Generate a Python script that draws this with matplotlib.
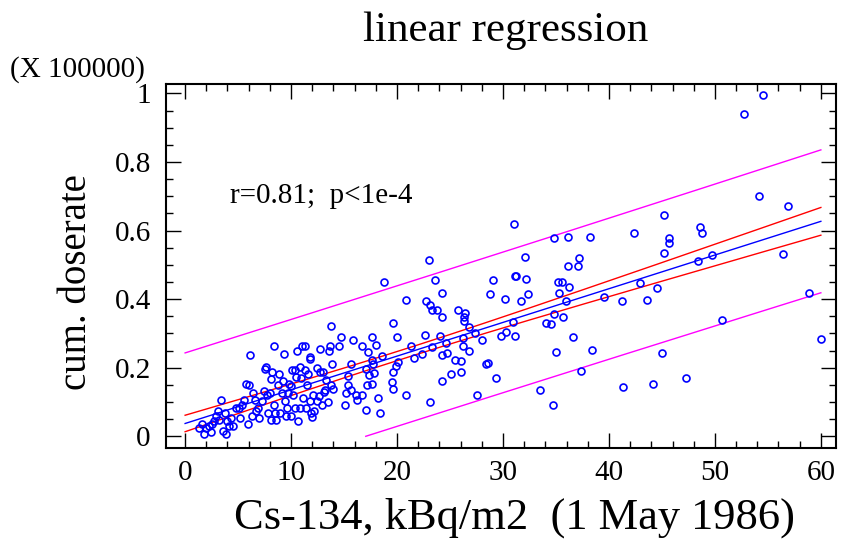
import numpy as np
import matplotlib
matplotlib.use("Agg")
import matplotlib.pyplot as plt
from matplotlib.ticker import MultipleLocator, FormatStrFormatter

plt.rcParams['font.family'] = ['Liberation Serif', 'DejaVu Serif']

# Cs-134 deposition (kBq/m2) and cumulative doserate (x 100000)
x_low = [1.3, 1.55, 1.8, 2.0, 2.3, 2.4, 2.5, 2.7, 2.9, 3.1,
         3.2, 3.4, 3.6, 3.8, 3.9, 4.0, 4.1, 4.3, 4.5, 4.8,
         5.1, 5.2, 5.4, 5.6, 5.7, 6.0, 6.1, 5.9, 6.3, 6.4,
         6.6, 6.7, 6.9, 7.0, 7.3, 7.4, 7.5, 7.6, 7.7, 7.8,
         8.0, 8.1, 8.1, 8.2, 8.4, 8.4, 8.5, 8.6, 8.8, 8.9,
         9.0, 9.1, 9.2, 9.3, 9.4, 9.5, 9.6, 9.7, 9.8, 10.0,
         10.0, 10.1, 10.2, 10.4, 10.4, 10.5, 10.6, 10.7, 10.8, 10.8,
         10.9, 11.0, 11.1, 11.3, 11.3, 11.4, 11.5, 11.6, 11.8, 11.8,
         11.8, 11.9, 12.0, 12.1, 12.2, 12.4, 12.4, 12.6, 12.7, 12.7,
         12.9, 13.0, 13.1, 13.2, 13.3, 13.5, 13.6, 13.7, 13.8, 13.9,
         14.0, 13.8, 14.5, 14.7, 15.1, 15.2, 15.4, 15.4, 15.7, 15.7,
         15.8, 16.1, 16.2, 16.7, 16.7, 17.1, 17.1, 17.2, 17.3, 17.4,
         17.6, 17.6, 17.6, 17.7, 17.8, 18.0, 18.2, 18.4, 18.6, 18.8,
         19.5, 19.6, 19.6, 19.6, 19.9, 20.0, 20.1]
y_low = [.023, .037, .008, .023, .029, .012, .037, .044, .060, .073,
         .049, .105, .015, .068, .008, .044, .029, .052, .029, .084,
         .083, .053, .090, .105, .153, .149, .236, .037, .058, .126,
         .107, .073, .083, .053, .102, .131, .196, .202, .121, .068,
         .126, .167, .049, .189, .092, .264, .068, .049, .150, .183,
         .068, .126, .160, .240, .102, .058, .083, .126, .153, .148,
         .058, .192, .121, .083, .192, .173, .248, .044, .202, .083,
         .170, .262, .112, .194, .264, .083, .150, .182, .226, .230,
         .102, .068, .056, .121, .073, .102, .199, .118, .256, .189,
         .092, .189, .128, .134, .165, .099, .248, .264, .322, .211,
         .138, .150, .262, .291, .092, .126, .175, .150, .134, .212,
         .282, .121, .107, .121, .264, .078, .196, .150, .245, .180,
         .223, .291, .153, .212, .184, .267, .112, .068, .235, .449,
         .157, .138, .189, .330, .206, .291, .218]

x_mid = [31.0, 34.8, 23.0, 32.1, 23.6, 29.1, 31.1, 31.2, 32.2, 24.2,
         20.8, 22.7, 23.1, 23.3, 23.8, 24.2, 28.8, 30.2, 31.7, 32.4,
         25.8, 26.4, 26.3, 26.3, 26.8, 27.4, 28.0, 26.2, 26.2, 24.1,
         22.6, 21.3, 23.3, 24.6, 30.9, 29.8, 30.3, 31.1, 34.1, 34.5,
         34.8, 35.0, 21.6, 22.4, 24.2, 24.7, 25.5, 26.0, 26.8, 26.0,
         25.1, 24.2, 28.4, 28.6, 29.3, 20.8, 23.1, 27.5, 33.5, 34.7]
y_mid = [.620, .577, .515, .523, .456, .456, .468, .468, .460, .417,
         .398, .396, .382, .369, .367, .349, .415, .400, .395, .415,
         .369, .359, .349, .337, .318, .302, .282, .287, .262, .292,
         .296, .262, .260, .271, .333, .294, .304, .292, .330, .327,
         .356, .246, .229, .239, .236, .242, .223, .221, .248, .189,
         .181, .161, .211, .213, .170, .121, .099, .121, .134, .092]

x_high = [54.5, 52.7, 54.2, 56.9, 45.2, 36.1, 38.2, 42.4, 48.6, 48.8,
          45.7, 45.7, 37.2, 36.1, 37.1, 45.2, 48.4, 49.7, 56.4, 35.2,
          35.6, 35.3, 36.2, 35.9, 42.9, 44.5, 39.5, 41.2, 43.6, 35.7,
          36.6, 38.4, 58.9, 50.7, 60.0, 45.0, 37.4, 41.3, 44.2, 47.3]
y_high = [.995, .941, .702, .671, .645, .581, .581, .592, .609, .594,
          .577, .565, .521, .498, .498, .535, .510, .528, .532, .449,
          .449, .419, .434, .395, .447, .433, .406, .395, .398, .348,
          .289, .251, .419, .338, .284, .242, .191, .144, .153, .170]

x = np.array(x_low + x_mid + x_high)
y = np.array(y_low + y_mid + y_high)

# least squares fit with 95% confidence / prediction limits
n = len(x)
slope, icpt = np.polyfit(x, y, 1)
s = np.sqrt(np.sum((y - (icpt + slope * x)) ** 2) / (n - 2))
xbar = x.mean()
sxx = np.sum((x - xbar) ** 2)
t95 = 1.97
xs = np.linspace(0, 60, 1201)
fit = icpt + slope * xs
ci = t95 * s * np.sqrt(1.0 / n + (xs - xbar) ** 2 / sxx)
pi = t95 * s * np.sqrt(1 + 1.0 / n + (xs - xbar) ** 2 / sxx)
pi_low = fit - pi
pi_low[pi_low < 0] = np.nan

fig = plt.figure(figsize=(8.45, 5.5), dpi=100)
ax = fig.add_axes([0.1965, 0.1855, 0.7925, 0.6615])

ax.plot(xs, fit + pi, color='#ff00ff', lw=1.0)
ax.plot(xs, pi_low, color='#ff00ff', lw=1.0)
ax.plot(xs, fit + ci, color='#ff0000', lw=1.0)
ax.plot(xs, fit - ci, color='#ff0000', lw=1.0)
ax.plot(xs, fit, color='#0000ff', lw=1.0)
ax.plot(x, y, 'o', mfc='none', mec='#0000ff', mew=1.2, ms=5)

ax.set_xlim(-1.8, 61.4)
ax.set_ylim(-0.034, 1.027)
ax.xaxis.set_major_locator(MultipleLocator(10))
ax.xaxis.set_minor_locator(MultipleLocator(2))
ax.yaxis.set_major_locator(MultipleLocator(0.2))
ax.yaxis.set_minor_locator(MultipleLocator(0.05))
ax.yaxis.set_major_formatter(FormatStrFormatter('%g'))
ax.tick_params(which='both', direction='in', top=True, right=True,
               labelsize=21, width=1.0)
ax.tick_params(which='major', length=11, pad=9)
ax.tick_params(which='minor', length=5)
ax.tick_params(axis='y', which='major', pad=11)
for sp in ax.spines.values():
    sp.set_linewidth(1.5)

ax.text(4.2, 0.70, 'r=0.81;  p<1e-4', fontsize=21, va='center', ha='left')

fig.text(0.598, 0.945, 'linear regression', fontsize=31, ha='center', va='center')
fig.text(0.012, 0.873, '(X 100000)', fontsize=21, ha='left', va='center')
fig.text(0.090, 0.487, 'cum. doserate', fontsize=28, rotation=90,
         ha='center', va='center')
fig.text(0.609, 0.058, 'Cs-134, kBq/m2  (1 May 1986)', fontsize=32,
         ha='center', va='center')

fig.savefig('out.png', dpi=100)
